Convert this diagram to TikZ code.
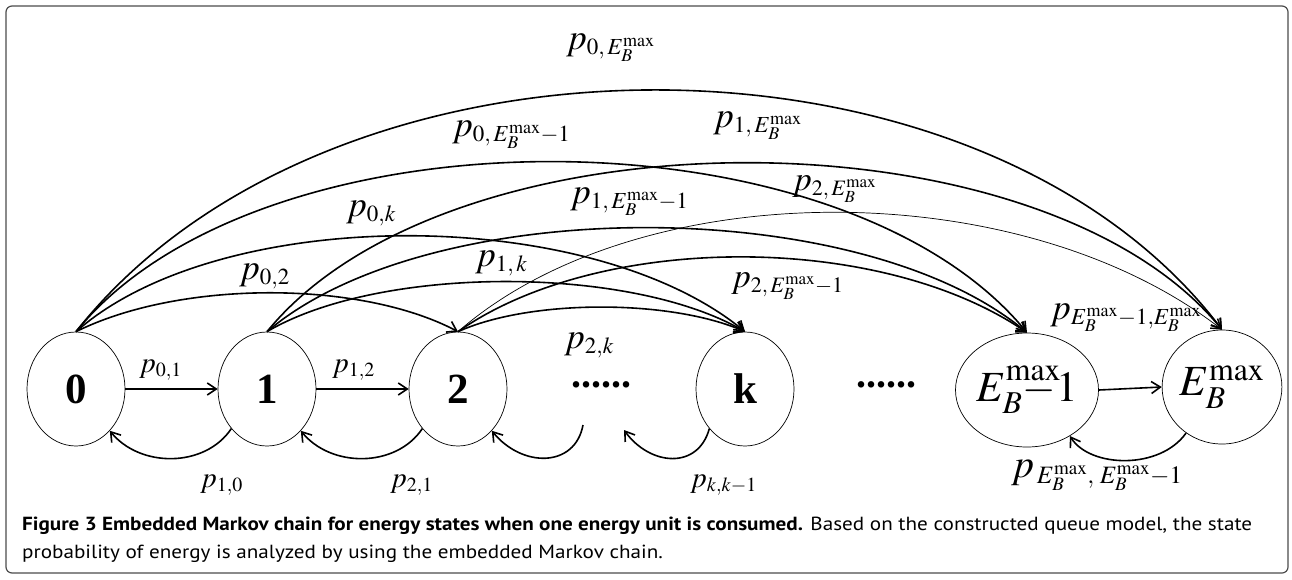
\documentclass[tikz,border=0pt]{standalone}
\usepackage{mathptmx}
\usepackage{fontspec}
\setmainfont{Liberation Serif}
\newfontfamily\capfont{PT Sans}
\usetikzlibrary{shapes.geometric,arrows.meta}
\DeclareMathSizes{40}{40}{25}{19}
\DeclareMathSizes{36}{36}{23}{18}
\DeclareMathSizes{34}{34}{22}{17}
\DeclareMathSizes{29}{29}{20}{15}
\newsavebox\capboxA
\newcommand\EBm{E_B^{\mathrm{max}}}
\begin{document}
\begin{tikzpicture}[x=1pt,y=-1pt,
  state/.style={ellipse,draw,line width=0.7pt,minimum width=98pt,minimum height=114pt,inner sep=0pt,font=\fontsize{43}{48}\selectfont},
  arc/.style={line width=1.6pt,-{Straight Barb[length=9pt,width=12pt]}},
  thin arc/.style={line width=0.7pt,-{Straight Barb[length=9pt,width=12pt,line width=1.4pt]}},
  hugelbl/.style={anchor=base west,inner sep=0pt,font=\fontsize{40}{44}\selectfont},
  biglbl/.style={anchor=base west,inner sep=0pt,font=\fontsize{36}{40}\selectfont},
  midlbl/.style={anchor=base west,inner sep=0pt,font=\fontsize{34}{40}\selectfont},
  lbl/.style={anchor=base west,inner sep=0pt,font=\fontsize{29}{34}\selectfont},
  dots/.style={anchor=base,inner sep=0pt,font=\fontsize{40}{46}\selectfont\bfseries},
  capline/.style={anchor=base west,inner sep=0pt}
  ]
\useasboundingbox (0,0) rectangle (1292,579);
\draw[line width=1.2pt,draw=black!70,rounded corners=6pt] (6,6) rectangle (1288,573);

% states
\node[state] (n0) at (76,389) {\textbf{0}};
\node[state] (n1) at (267,389) {\textbf{1}};
\node[state] (n2) at (458,389) {\textbf{2}};
\node[state] (nk) at (745,389) {\textbf{k}};
\node[state] (nE1) at (1027,390) {$E_B^{\rlap{\raisebox{5pt}{$\scriptstyle\mathrm{max}$}}}{-}1$};
\node[state] (nE) at (1222,387) {$E_B^{\mathrm{max}}$};
\node[dots] (d1) at (601,387) {......};
\node[dots] (d2) at (886,387) {......};

% long arcs
\draw[arc] (n0.north) .. controls (330,10) and (980,10) .. (nE.north);
\draw[arc] (n0.north) .. controls (260,105) and (840,105) .. (nE1.north);
\draw[arc] (n0.north) .. controls (220,204) and (590,204) .. (nk.north);
\draw[arc] (n0.north) .. controls (180,280) and (360,280) .. (n2.north);
\draw[arc] (n1.north) .. controls (450,107) and (1040,107) .. (nE.north);
\draw[arc] (n1.north) .. controls (430,193) and (860,193) .. (nE1.north);
\draw[arc] (n1.north) .. controls (380,265) and (630,265) .. (nk.north);
\draw[thin arc] (n2.north) .. controls (640,173) and (1020,173) .. (nE.north);
\draw[arc] (n2.north) .. controls (600,232) and (880,232) .. (nE1.north);
\draw[arc] (n2.north) .. controls (530,299) and (670,299) .. (nk.north);

% straight arrows
\draw[arc] (n0.east) -- (n1.west);
\draw[arc] (n1.east) -- (n2.west);
\draw[arc] (nE1.east) -- (nE.west);

% back arrows
\coordinate (c2) at (583,425);
\coordinate (ck) at (624,430);
\draw[arc] (n1.228) .. controls (205,468) and (140,468) .. (n0.309);
\draw[arc] (n2.228) .. controls (396,468) and (331,468) .. (n1.309);
\draw[arc] (c2) .. controls (575,468) and (522,468) .. (n2.309);
\draw[arc] (nk.228) .. controls (698,470) and (650,466) .. (ck);
\draw[arc] (nE.232) .. controls (1160,470) and (1090,468) .. (nE1.313);

% labels
\node[biglbl] (l0E) at (566,49) {$p_{0,\,\EBm}$};
\node[biglbl] (l0E1) at (452,136) {$p_{0,\,\EBm-1}$};
\node[biglbl] (l1E) at (713,127) {$p_{1,\,\EBm}$};
\node[midlbl] (l2E) at (792,190) {$p_{2,\,\EBm}$};
\node[biglbl] (l1E1) at (570,203) {$p_{1,\,\EBm-1}$};
\node[biglbl] (l0k) at (346,216) {$p_{0,k}$};
\node[biglbl] (l1k) at (475,266) {$p_{1,\,k}$};
\node[biglbl] (l02) at (239,279) {$p_{0,2}$};
\node[midlbl] (l2E1) at (731,287) {$p_{2,\,\EBm-1}$};
\node[biglbl] (l2k) at (564,348) {$p_{2,k}$};
\node[lbl] (l01) at (139,372) {$p_{0,1}$};
\node[lbl] (l12) at (332,372) {$p_{1,2}$};
\node[biglbl] (lE1E) at (1050,319) {$p_{\EBm-1,\EBm}$};
\node[lbl] (l10) at (200,487) {$p_{1,0}$};
\node[lbl] (l21) at (390,487) {$p_{2,1}$};
\node[lbl] (lkk) at (690,487) {$p_{k,k-1}$};
\node[hugelbl] (lEE1) at (1011,477) {$p_{\,\EBm,\;\EBm-1}$};

% caption
\node[capline] (cap1) at (22,530) {\sbox\capboxA{\capfont\fontsize{19}{19}\selectfont\textbf{Figure 3 Embedded Markov chain for energy states when one energy unit is consumed.} Based on the constructed queue model, the state}%
  \pgfmathsetmacro\capfac{1230/\the\wd\capboxA}\xdef\capfacG{\capfac}%
  \scalebox{\capfac}[1]{\usebox\capboxA}};
\node[capline] (cap2) at (22,558) {\scalebox{\capfacG}[1]{\capfont\fontsize{19}{19}\selectfont probability of energy is analyzed by using the embedded Markov chain.}};
\end{tikzpicture}
\end{document}
